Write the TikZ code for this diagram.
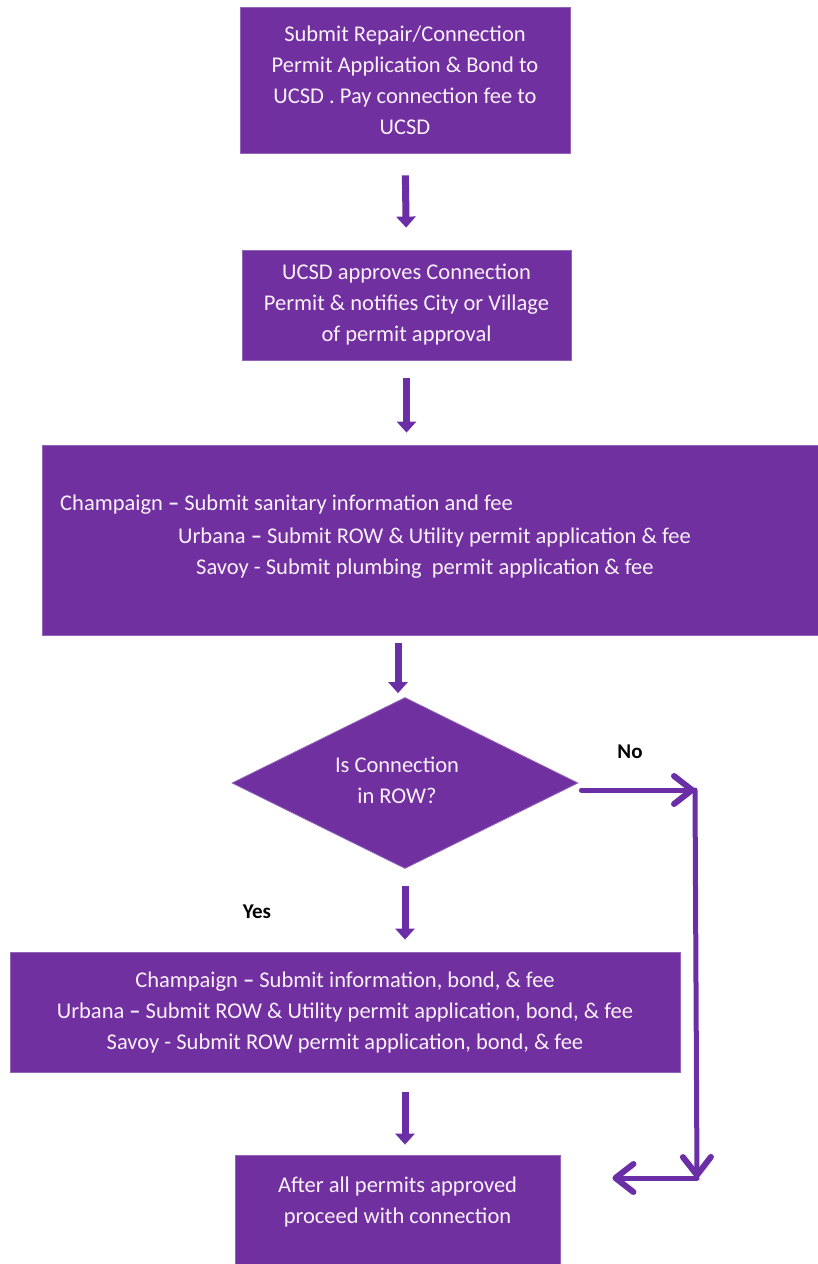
\documentclass[tikz,border=0pt]{standalone}
\usepackage{fontspec}
\setmainfont{Carlito}
\usetikzlibrary{arrows.meta,shapes.geometric,calc}
\definecolor{ppl}{HTML}{7030A0}
\definecolor{arr}{HTML}{6A2FA6}
\definecolor{txt}{HTML}{FBF0FA}
\begin{document}
\begin{tikzpicture}[x=1pt,y=-1pt,
  box/.style={fill=ppl, draw=ppl!75!white, line width=0.8pt, text=txt, align=center,
    font=\fontsize{22.5}{31}\selectfont, inner sep=0pt},
  txtline/.style={text=txt, font=\fontsize{22.5}{31}\selectfont, inner sep=0pt, align=center},
  flow/.style={arr, line width=7pt, -{Triangle[length=11pt,width=19pt]}},
  side/.style={arr, line width=5pt, line cap=round, line join=round,
    -{Straight Barb[length=18pt,width=28pt,line width=6pt,round]}},
  lbl/.style={font=\fontsize{21}{22}\selectfont\bfseries, text=black, inner sep=0pt}]
\useasboundingbox (0,0) rectangle (817,1264);
\fill[white] (0,0) rectangle (817,1264);

\node[box, minimum width=330pt, minimum height=146pt] (b1) at (405,80)
  {Submit Repair/Connection\\Permit Application \& Bond to\\UCSD . Pay connection fee to\\UCSD};
\node[box, minimum width=329pt, minimum height=110pt] (b2) at (406.5,305)
  {UCSD approves Connection\\Permit \& notifies City or Village\\of permit approval};
\node[box, minimum width=777pt, minimum height=190pt] (b3) at (430.5,540) {};
\node[txtline, anchor=west] (t3a) at (60,505) {Champaign \textbf{--} Submit sanitary information and fee};
\node[txtline, anchor=west] (t3b) at (178,537) {Urbana \textbf{--} Submit ROW \& Utility permit application \& fee};
\node[txtline, anchor=west] (t3c) at (196,569) {Savoy - Submit plumbing\ \ permit application \& fee};

\node[shape=diamond, fill=ppl, draw=ppl!75!white, line width=0.8pt, inner sep=0pt,
  minimum width=346pt, minimum height=171pt, shape aspect=2] (dia) at (405,783) {};
\node[txtline] (dt) at (397,780) {Is Connection\\in ROW?};

\node[box, minimum width=670pt, minimum height=120pt] (b4) at (345,1012)
  {Champaign \textbf{--} Submit information, bond, \& fee\\
   Urbana \textbf{--} Submit ROW \& Utility permit application, bond, \& fee\\
   Savoy - Submit ROW permit application, bond, \& fee};
\node[box, minimum width=325pt, minimum height=112pt] (fin) at (397.5,1211) {};
\node[txtline] (ft) at (397.5,1202) {After all permits approved\\proceed with connection};

\node[lbl] (no) at (630,752) {No};
\node[lbl] (yes) at (257,912) {Yes};

\draw[flow, shorten <=22pt, shorten >=22pt] (b1.south) -- (b2.north);
\draw[flow, shorten <=18pt, shorten >=12pt] (b2.south) -- (b2.south |- b3.north);
\draw[flow, shorten <=8pt, shorten >=4pt] ($(dia.north |- b3.south)+(-7,0)$) -- ($(dia.north)+(-7,0)$);
\draw[flow, shorten <=17pt, shorten >=12pt] (dia.south) -- (dia.south |- b4.north);
\draw[flow, shorten <=20pt, shorten >=10pt] (dia.south |- b4.south) -- (dia.south |- fin.north);

\coordinate (nA) at (695,790);
\coordinate (nB) at (697,1178);
\draw[side] ($(dia.east)+(3,7)$) -- (nA);
\draw[side] (nA) -- (nB);
\draw[side, shorten >=52pt] (nB) -- (nB -| fin.east);
\end{tikzpicture}
\end{document}
